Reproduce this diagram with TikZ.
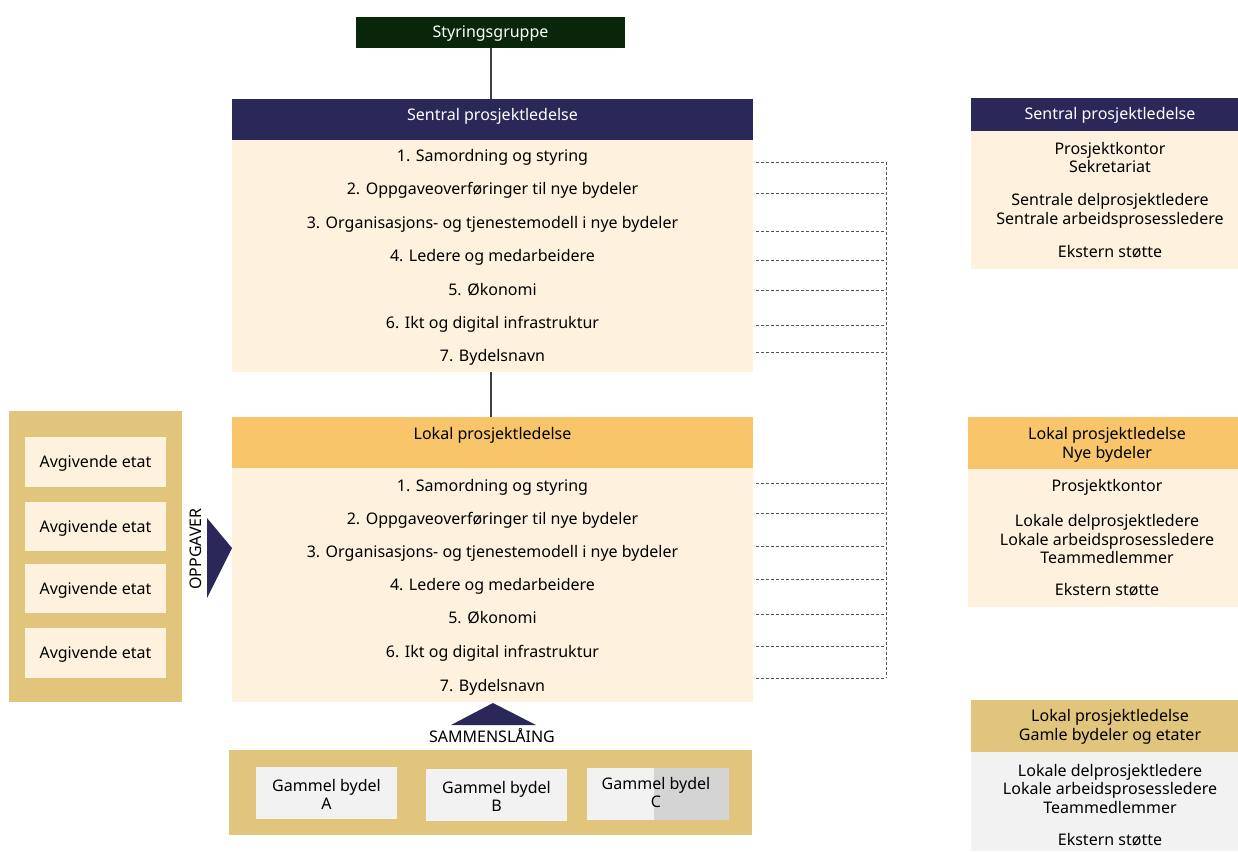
\documentclass[tikz,border=0pt]{standalone}
\usepackage{fontspec}
\setmainfont{Noto Sans}
\definecolor{navy}{HTML}{2A2859}
\definecolor{dkgreen}{RGB}{10,38,10}
\definecolor{cream}{HTML}{FEF2DF}
\definecolor{oyellow}{HTML}{F8C56B}
\definecolor{ochre}{HTML}{E2C57D}
\definecolor{lgray}{HTML}{F2F2F2}
\definecolor{mgray}{HTML}{D4D4D4}
\definecolor{dline}{HTML}{555555}
\begin{document}
\begin{tikzpicture}[x=1pt,y=-1pt,
  txt/.style={font=\fontsize{16}{18.5}\selectfont, inner sep=0pt, align=center, yshift=-1.5pt},
  one/.style={txt, text height=11.8pt, text depth=3.8pt},
  wtxt/.style={one, text=white},
  dl/.style={draw=dline, line width=0.9pt, dash pattern=on 3pt off 2pt},
  solid link/.style={draw=black!75, line width=2.5pt}]
\useasboundingbox (0,0) rectangle (1238,851);
% ---------- Styringsgruppe ----------
\fill[dkgreen] (356,17) rectangle (625,48);
\node[wtxt] (styr) at (490.5,32) {Styringsgruppe};
\coordinate (styrb) at (491,48);
% ---------- Sentral ----------
\fill[navy] (232,99) rectangle (753,140);
\fill[cream] (232,140) rectangle (753,372);
\coordinate (sentt) at (491,99);
\coordinate (sentb) at (491,372);
\node[wtxt] (sent) at (492.5,115) {Sentral prosjektledelse};
\node[one] (s1) at (492.5,156) {1. Samordning og styring};
\node[one] (s2) at (492.5,189) {2. Oppgaveoverføringer til nye bydeler};
\node[one] (s3) at (492.5,223) {3. Organisasjons- og tjenestemodell i nye bydeler};
\node[one] (s4) at (492.5,256) {4. Ledere og medarbeidere};
\node[one] (s5) at (492.5,290) {5. Økonomi};
\node[one] (s6) at (492.5,323) {6. Ikt og digital infrastruktur};
\node[one] (s7) at (492.5,356) {7. Bydelsnavn};
% ---------- Lokal ----------
\fill[oyellow] (232,417) rectangle (753,468);
\fill[cream] (232,468) rectangle (753,702);
\coordinate (lokt) at (491,417);
\node[one] (lok) at (492.5,434) {Lokal prosjektledelse};
\node[one] (l1) at (492.5,486) {1. Samordning og styring};
\node[one] (l2) at (492.5,519) {2. Oppgaveoverføringer til nye bydeler};
\node[one] (l3) at (492.5,552) {3. Organisasjons- og tjenestemodell i nye bydeler};
\node[one] (l4) at (492.5,585) {4. Ledere og medarbeidere};
\node[one] (l5) at (492.5,618) {5. Økonomi};
\node[one] (l6) at (492.5,652) {6. Ikt og digital infrastruktur};
\node[one] (l7) at (492.5,686) {7. Bydelsnavn};
% solid links
\draw[solid link] (styrb) -- (sentt);
\draw[solid link] (sentb) -- (lokt);
% ---------- dashed connectors ----------
\foreach \n/\y in {a/162,b/193,c/231,d/260,e/290,f/325,g/352,h/483,i/513,j/546,k/579,m/614,n/646,o/678}{
  \coordinate (dl\n) at (756,\y);
  \coordinate (dr\n) at (886,\y);
}
\foreach \n in {a,b,c,d,e,f,g,h,i,j,k,m,n,o}{
  \draw[dl] (dl\n) -- (dr\n);
}
\draw[dl] (dra) -- (dro);
% ---------- Avgivende etat ----------
\fill[ochre] (9,411) rectangle (182,702);
\foreach \n/\ya/\yb in {1/437/487,2/502/551,3/564/613,4/628/678}{
  \fill[cream] (25,\ya) rectangle (166,\yb);
  \node[one] (av\n) at (95.5,{(\ya+\yb)/2}) {Avgivende etat};
}
\node[txt, rotate=90, yshift=1.5pt, xshift=1.5pt] (oppg) at (197.5,549) {OPPGAVER};
\fill[navy] (207,518) -- (232,548) -- (207,598) -- cycle;
% ---------- Sammenslaaing ----------
\fill[navy] (451,725) -- (493,703) -- (536,725) -- cycle;
\node[one] (samm) at (492,737) {SAMMENSLÅING};
\fill[ochre] (229,750) rectangle (752,835);
\fill[lgray] (256,767) rectangle (397,819);
\node[txt] (ga) at (326.5,793) {Gammel bydel\\A};
\fill[lgray] (426,769) rectangle (567,821);
\node[txt] (gb) at (496.5,795) {Gammel bydel\\B};
\fill[lgray] (587,768) rectangle (654,820);
\fill[mgray] (654,768) rectangle (729,820);
\node[txt] (gc) at (656,791) {Gammel bydel\\C};
% ---------- Right panels ----------
\fill[navy] (971,98) rectangle (1238,131);
\fill[cream] (971,131) rectangle (1238,269);
\node[wtxt] (rs) at (1110,114) {Sentral prosjektledelse};
\node[txt] (rs1) at (1110,156) {Prosjektkontor\\Sekretariat};
\node[txt] (rs2) at (1110,209.5) {Sentrale delprosjektledere\\Sentrale arbeidsprosessledere};
\node[one] (rs3) at (1110,252) {Ekstern støtte};
\fill[oyellow] (968,417) rectangle (1238,469);
\fill[cream] (968,469) rectangle (1238,607);
\node[txt] (rl) at (1107,443.5) {Lokal prosjektledelse\\Nye bydeler};
\node[one] (rl1) at (1107,486) {Prosjektkontor};
\node[txt] (rl2) at (1107,537.5) {Lokale delprosjektledere\\Lokale arbeidsprosessledere\\Teammedlemmer};
\node[one] (rl3) at (1107,590) {Ekstern støtte};
\fill[ochre] (971,700) rectangle (1238,752);
\fill[lgray] (971,752) rectangle (1238,851);
\node[txt] (rg) at (1110,725.5) {Lokal prosjektledelse\\Gamle bydeler og etater};
\node[txt] (rg1) at (1110,787) {Lokale delprosjektledere\\Lokale arbeidsprosessledere\\Teammedlemmer};
\node[one] (rg2) at (1110,840) {Ekstern støtte};
\end{tikzpicture}
\end{document}
